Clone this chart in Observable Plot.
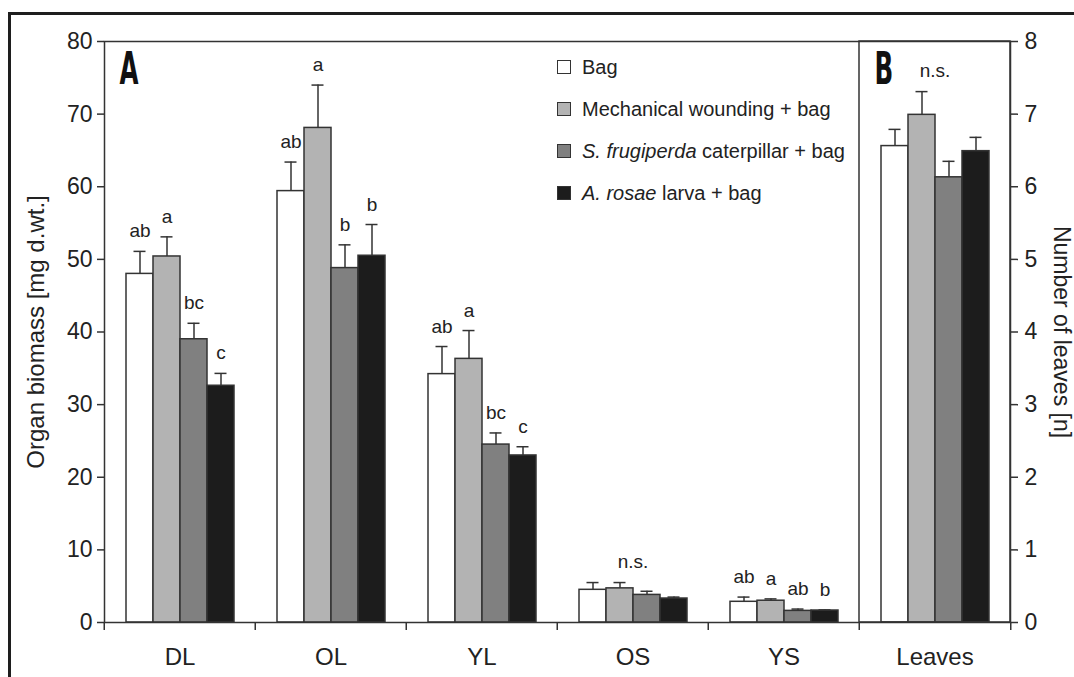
<!DOCTYPE html>
<html><head><meta charset="utf-8">
<script src="https://cdn.jsdelivr.net/npm/d3@7"></script>
<script src="https://cdn.jsdelivr.net/npm/@observablehq/plot@0.6"></script>
<style>
body{margin:0;background:#fff;font-family:"Liberation Sans",Arial,sans-serif;}
#wrap{position:relative;width:1074px;height:677px;overflow:hidden;}
#border{position:absolute;left:8px;top:12px;width:2000px;height:2000px;border-top:3px solid #1e1e1e;border-left:3px solid #1e1e1e;}
#chart{position:absolute;left:0;top:0;}
#legend{position:absolute;left:557px;top:46px;font-size:20px;color:#222;line-height:1;}
.row{display:flex;align-items:center;height:42px;white-space:nowrap;}
.sw{width:12px;height:12px;border:1.5px solid #333;margin-right:11px;flex:none;}
</style></head><body>
<div id="wrap"><div id="border"></div><div id="chart"></div><div id="legend"></div></div>
<script>
// ---- data ----
const organs = ["DL", "OL", "YL", "OS", "YS"];
const leavesCategory = "Leaves";
const categories = [...organs, leavesCategory];
const treatments = ["Bag", "Mechanical wounding + bag", "S. frugiperda caterpillar + bag", "A. rosae larva + bag"];
const treatmentLegendHTML = ["Bag", "Mechanical wounding + bag", "<i>S. frugiperda</i> caterpillar + bag", "<i>A. rosae</i> larva + bag"];
const treatmentColors = ["#ffffff", "#b3b3b3", "#808080", "#1c1c1c"];

// organ biomass [mg d.wt.], per treatment across organs DL, OL, YL, OS, YS
const bagMean  = [48.0, 59.4, 34.2, 4.5, 2.85];
const bagSE    = [3.1, 4.0, 3.8, 1.0, 0.65];
const mechMean = [50.4, 68.1, 36.3, 4.7, 3.0];
const mechSE   = [2.7, 5.9, 3.9, 0.8, 0.25];
const sfruMean = [39.0, 48.8, 24.5, 3.8, 1.6];
const sfruSE   = [2.2, 3.2, 1.6, 0.5, 0.25];
const aroMean  = [32.6, 50.5, 23.0, 3.3, 1.65];
const aroSE    = [1.7, 4.3, 1.2, 0.2, 0.08];

const bagLetters  = ["ab", "ab", "ab", "", "ab"];
const mechLetters = ["a", "a", "a", "", "a"];
const sfruLetters = ["bc", "b", "bc", "", "ab"];
const aroLetters  = ["c", "b", "c", "", "b"];

// number of leaves [n]
const leavesMean = [6.56, 6.99, 6.13, 6.49];
const leavesSE   = [0.23, 0.32, 0.22, 0.19];

const groupLabelCategories = ["OS", "Leaves"];
const groupLabelText = "n.s.";

const panelLabelCategories = ["DL", "Leaves"];
const panelLabelText = ["A", "B"];

const yTitle = "Organ biomass [mg d.wt.]";
const y2Title = "Number of leaves [n]";
const yTicks = [0, 10, 20, 30, 40, 50, 60, 70, 80];
const leavesScale = 10; // right axis 0–8 maps onto left axis 0–80

// ---- build rows ----
const means = [bagMean, mechMean, sfruMean, aroMean];
const ses = [bagSE, mechSE, sfruSE, aroSE];
const letters = [bagLetters, mechLetters, sfruLetters, aroLetters];
const rows = [];
organs.forEach((cat, i) => {
  treatments.forEach((treat, j) => {
    rows.push({cat, treat, mean: means[j][i], top: means[j][i] + ses[j][i], label: letters[j][i]});
  });
});
treatments.forEach((treat, j) => {
  rows.push({cat: leavesCategory, treat, mean: leavesMean[j] * leavesScale, top: (leavesMean[j] + leavesSE[j]) * leavesScale, label: ""});
});
const groupRows = groupLabelCategories.map(cat => ({cat, label: groupLabelText, top: d3.max(rows.filter(r => r.cat === cat), r => r.top)}));
const panelRows = panelLabelCategories.map((cat, i) => ({cat, text: panelLabelText[i]}));
const dividerRows = [{cat: leavesCategory}];

// ---- plot ----
const W = 1074, H = 677, ml = 102, mr = 63, mt = 41, mb = 55;
const fxStep = (W - ml - mr) / categories.length;
const ink = "#333";
const plot = Plot.plot({
  width: W, height: H,
  marginLeft: ml, marginRight: mr, marginTop: mt, marginBottom: mb,
  style: {fontFamily: "'Liberation Sans', Arial, sans-serif", fontSize: "23px", color: "#222", background: "transparent", overflow: "visible"},
  fx: {domain: categories, padding: 0},
  x: {domain: treatments, paddingInner: 0, paddingOuter: 0.7, axis: null},
  y: {domain: [0, 80]},
  color: {domain: treatments, range: treatmentColors},
  marks: [
    Plot.barY(rows, {fx: "cat", x: "treat", y: "mean", fill: "treat", stroke: ink, strokeWidth: 1.5}),
    Plot.ruleX(rows, {fx: "cat", x: "treat", y1: "mean", y2: "top", stroke: ink, strokeWidth: 1.5}),
    Plot.tickY(rows, {fx: "cat", x: "treat", y: "top", stroke: ink, strokeWidth: 1.5, insetLeft: 7.5, insetRight: 7.5}),
    Plot.text(rows.filter(d => d.label), {fx: "cat", x: "treat", y: "top", text: "label", lineAnchor: "bottom", dy: -14, fontSize: 19, fill: "#222"}),
    Plot.text(groupRows, {fx: "cat", y: "top", text: "label", lineAnchor: "bottom", dy: -15, fontSize: 19, fill: "#222"}),
    Plot.frame({facet: "super", stroke: ink, strokeWidth: 1.5}),
    Plot.rect(dividerRows, {fx: "cat", y1: 0, y2: 80, stroke: ink, fill: "none", strokeWidth: 1.5}),
    Plot.axisY({anchor: "left", ticks: yTicks, tickSize: 7, tickPadding: 5, label: null, fontSize: 23, strokeWidth: 1.5, stroke: ink}),
    Plot.axisY({anchor: "right", ticks: yTicks, tickFormat: d => d / leavesScale, tickSize: 7, tickPadding: 7, label: null, fontSize: 23, strokeWidth: 1.5, stroke: ink}),
    Plot.axisFx({anchor: "bottom", tickSize: 0, tickPadding: 25, label: null, fontSize: 24}),
    Plot.axisFx({anchor: "bottom", tickSize: 8, dx: -fxStep / 2, tickFormat: () => "", label: null, strokeWidth: 1.5, stroke: ink}),
    Plot.axisFx({anchor: "bottom", ticks: [leavesCategory], tickSize: 8, dx: fxStep / 2, tickFormat: () => "", label: null, strokeWidth: 1.5, stroke: ink}),
    Plot.text(panelRows, {fx: "cat", text: "text", frameAnchor: "top-left", textAnchor: "start", lineAnchor: "top", dx: 15, dy: 11, fontSize: 44, fontWeight: "bold", fontFamily: "'Liberation Sans Narrow', 'DejaVu Sans Condensed', sans-serif", fill: "#111"}),
    Plot.text([{cat: organs[0], text: yTitle}], {fx: "cat", text: "text", frameAnchor: "left", textAnchor: "middle", lineAnchor: "middle", rotate: -90, dx: -68, fontSize: 24, fill: "#222"}),
    Plot.text([{cat: leavesCategory, text: y2Title}], {fx: "cat", text: "text", frameAnchor: "right", textAnchor: "middle", lineAnchor: "middle", rotate: 90, dx: 51, fontSize: 23, fill: "#222"})
  ]
});
document.getElementById("chart").appendChild(plot);

// condense the panel letters (squeeze glyph width, keep position)
plot.querySelectorAll("text").forEach(t => {
  if (panelLabelText.includes(t.textContent)) {
    const len = t.getComputedTextLength();
    t.setAttribute("textLength", (len * 0.62).toFixed(1));
    t.setAttribute("lengthAdjust", "spacingAndGlyphs");
  }
});

// legend
const legend = document.getElementById("legend");
treatments.forEach((t, j) => {
  const row = document.createElement("div");
  row.className = "row";
  row.innerHTML = `<span class="sw" style="background:${treatmentColors[j]}"></span><span>${treatmentLegendHTML[j]}</span>`;
  legend.appendChild(row);
});
</script>
</body></html>
